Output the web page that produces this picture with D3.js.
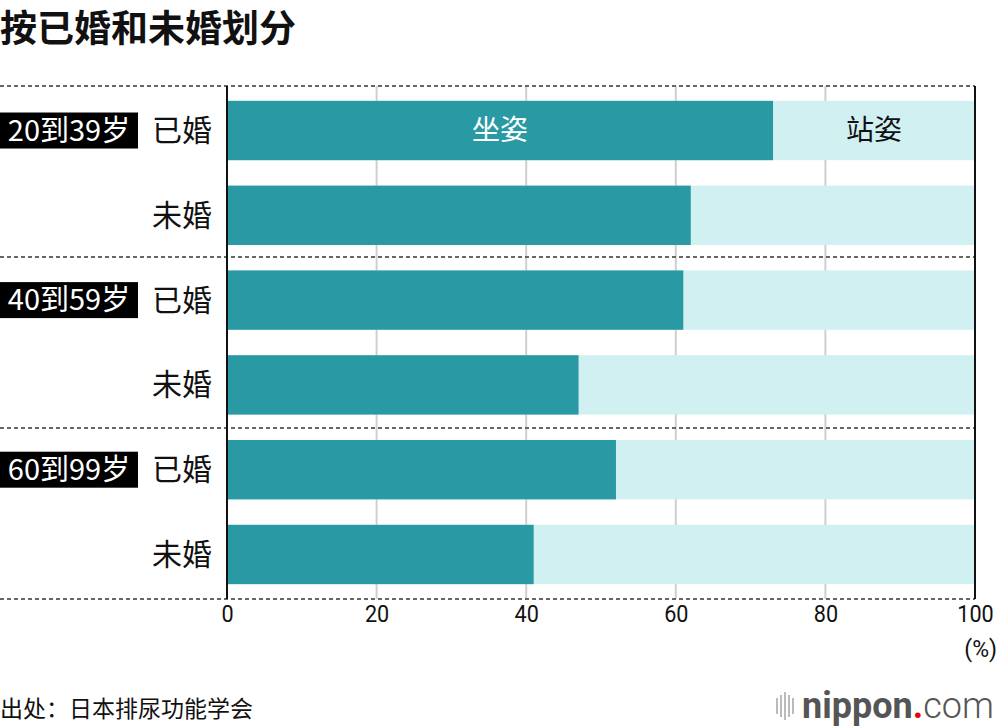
<!DOCTYPE html>
<html>
<head>
<meta charset="utf-8">
<script src="https://cdn.jsdelivr.net/npm/d3@7/dist/d3.min.js"></script>
<style>
body { margin: 0; background: #fff; }
svg { font-family: "Noto Sans CJK SC", "Noto Sans", sans-serif; }
</style>
</head>
<body>
<div class="chart"></div>
<script>
// data
const groups = ['20到39岁', '40到59岁', '60到99岁'];
const statuses = ['已婚', '未婚'];
const sitting = [73, 62, 61, 47, 52, 41];
const seriesNames = ['坐姿', '站姿'];
const ticks = [0, 20, 40, 60, 80, 100];

const w = 1000, h = 728;
const pLeft = 227, pRight = 975, pTop = 86, pBottom = 599;

const rows = [];
groups.forEach((g, gi) => statuses.forEach((s, si) => rows.push({g: g, s: s, key: gi * 2 + si, v: sitting[gi * 2 + si]})));

const svg = d3.select('div.chart').append('svg').attr('width', w).attr('height', h);

const xScale = d3.scaleLinear().domain([0, 100]).range([pLeft, pRight]);
const yScale = d3.scaleBand().domain(rows.map(d => d.key)).range([pTop, pBottom]).paddingInner(0.3).paddingOuter(0.175);
const gScale = d3.scaleBand().domain(groups).range([pTop, pBottom]);

// title
svg.append('text').attr('x', 0).attr('y', 42).attr('font-size', 37).attr('font-weight', 'bold').attr('fill', '#111').text('按已婚和未婚划分');

// gridlines
svg.append('g').selectAll('line').data(ticks.slice(1, -1)).enter().append('line')
  .attr('x1', d => xScale(d)).attr('x2', d => xScale(d))
  .attr('y1', pTop).attr('y2', pBottom)
  .attr('stroke', '#cfcfcf').attr('stroke-width', 2);

// bars
const bar = svg.append('g').selectAll('g').data(rows).enter().append('g');
bar.append('rect')
  .attr('x', xScale(0)).attr('y', d => yScale(d.key))
  .attr('width', xScale(100) - xScale(0)).attr('height', yScale.bandwidth())
  .attr('fill', '#d0f0f1');
bar.append('rect')
  .attr('x', xScale(0)).attr('y', d => yScale(d.key))
  .attr('width', d => xScale(d.v) - xScale(0)).attr('height', yScale.bandwidth())
  .attr('fill', '#2999a4');

// series labels on first bar
const r0 = rows[0];
svg.append('text').attr('x', (xScale(0) + xScale(r0.v)) / 2).attr('y', yScale(r0.key) + yScale.bandwidth() / 2)
  .attr('dy', '0.35em').attr('text-anchor', 'middle').attr('font-size', 28).attr('fill', '#fff').text(seriesNames[0]);
svg.append('text').attr('x', (xScale(r0.v) + xScale(100)) / 2).attr('y', yScale(r0.key) + yScale.bandwidth() / 2)
  .attr('dy', '0.35em').attr('text-anchor', 'middle').attr('font-size', 28).attr('fill', '#111').text(seriesNames[1]);

// dashed group separators
svg.append('g').selectAll('line').data(groups.map(g => gScale(g)).concat([pBottom])).enter().append('line')
  .attr('x1', 0).attr('x2', pRight).attr('y1', d => d).attr('y2', d => d)
  .attr('stroke', '#666').attr('stroke-width', 2).attr('stroke-dasharray', '4 3');

// frame lines
[pLeft, pRight].forEach(x => svg.append('line').attr('x1', x).attr('x2', x).attr('y1', pTop).attr('y2', pBottom)
  .attr('stroke', '#111').attr('stroke-width', 2));

// status labels
svg.append('g').selectAll('text').data(rows).enter().append('text')
  .attr('x', 212).attr('y', d => yScale(d.key) + yScale.bandwidth() / 2).attr('dy', '0.35em')
  .attr('text-anchor', 'end').attr('font-size', 30).attr('fill', '#111').text(d => d.s);

// group labels
const gl = svg.append('g').selectAll('g').data(groups).enter().append('g')
  .attr('transform', (d, i) => 'translate(0,' + (yScale(i * 2) + yScale.bandwidth() / 2) + ')');
gl.append('rect').attr('x', 0).attr('y', -18).attr('width', 138).attr('height', 36).attr('fill', '#000');
gl.append('text').attr('x', 69).attr('dy', '0.35em').attr('text-anchor', 'middle')
  .attr('font-size', 29).attr('fill', '#fff').text(d => d);

// x axis
const xAxis = d3.axisBottom(xScale).tickValues(ticks).tickSize(0).tickPadding(6);
const ax = svg.append('g').attr('transform', 'translate(0,' + pBottom + ')').call(xAxis);
ax.select('.domain').remove();
ax.selectAll('text').attr('font-family', 'Roboto, sans-serif').attr('font-size', 24).attr('fill', '#111')
  .attr('transform', 'scale(0.9,1)');
svg.append('text').attr('x', 997).attr('y', 657).attr('text-anchor', 'end')
  .attr('font-family', 'Roboto, sans-serif').attr('font-size', 23).attr('fill', '#111').text('(%)');

// source
svg.append('text').attr('x', 0).attr('y', 717).attr('font-size', 23).attr('fill', '#111').text('出处：日本排尿功能学会');

// logo
const logo = svg.append('g').attr('transform', 'translate(776,712)');
[0, 4, 8, 12, 16].forEach((x, i) => logo.append('rect').attr('x', x).attr('y', -20 + Math.abs(2 - i) * 3)
  .attr('width', 2).attr('height', 28 - Math.abs(2 - i) * 6).attr('fill', '#bbb'));
const lt = logo.append('text').attr('x', 26).attr('y', 6).attr('font-family', 'Roboto, sans-serif').attr('font-size', 36).attr('fill', '#555');
lt.append('tspan').attr('font-weight', 'bold').text('nippon');
lt.append('tspan').attr('fill', '#e60012').attr('font-weight', 'bold').text('.');
lt.append('tspan').attr('font-weight', 300).text('com');
</script>
</body>
</html>
